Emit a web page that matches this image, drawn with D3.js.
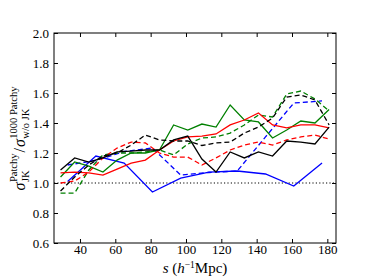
<!DOCTYPE html>
<html><head><meta charset="utf-8">
<script src="https://cdn.jsdelivr.net/npm/d3@7"></script>
<style>body{margin:0;background:#fff}svg{display:block}</style>
</head><body>
<script>
// bins of width 8 (centers) and width 16 (centers)
const s8 = [29,37,45,53,61,69,77,85,93,101,109,117,125,133,141,149,157,165,173,181];
const s16 = [33,49,65,81,97,113,129,145,161,177];

const blackSolid = [1.087,1.167,1.14,1.167,1.207,1.213,1.22,1.22,1.287,1.313,1.16,1.073,1.207,1.167,1.207,1.18,1.28,1.273,1.26,1.373];
const blackDashed = [0.947,1.04,1.12,1.18,1.2,1.253,1.32,1.287,1.28,1.28,1.25,1.267,1.273,1.333,1.373,1.433,1.573,1.587,1.553,1.387];
const redSolid = [1.067,1.073,1.067,1.053,1.093,1.133,1.153,1.22,1.28,1.307,1.313,1.327,1.387,1.42,1.467,1.387,1.367,1.387,1.387,1.367];
const redDashed = [1.0,1.013,1.073,1.167,1.233,1.273,1.267,1.2,1.173,1.173,1.12,1.167,1.22,1.253,1.273,1.253,1.287,1.307,1.32,1.293];
const greenSolid = [1.04,1.14,1.113,1.073,1.153,1.2,1.2,1.22,1.387,1.353,1.393,1.373,1.52,1.42,1.407,1.3,1.353,1.413,1.4,1.49];
const greenDashed = [0.933,0.933,1.087,1.187,1.2,1.2,1.207,1.22,1.187,1.26,1.3,1.307,1.333,1.387,1.453,1.44,1.593,1.613,1.56,1.48];
const blueSolid = [1.01,1.18,1.133,0.94,1.033,1.073,1.08,1.06,0.98,1.133];
const blueDashed = [1.12,1.15,1.21,1.233,1.053,1.07,1.08,1.307,1.533,1.547];

const xTicks = [40,60,80,100,120,140,160,180];
const yTicks = [0.6,0.8,1.0,1.2,1.4,1.6,1.8,2.0];

const W = 374, H = 280;
const m = {l:54, r:336, t:33, b:243};
const svg = d3.select("body").append("svg").attr("width", W).attr("height", H);
const x = d3.scaleLinear().domain([25.3,184.9]).range([m.l, m.r]);
const y = d3.scaleLinear().domain([0.6,2.0]).range([m.b, m.t]);
const font = "'Liberation Serif','DejaVu Serif',serif";

// reference line at 1.0
svg.append("line").attr("x1", m.l).attr("x2", m.r).attr("y1", y(1)).attr("y2", y(1))
  .attr("stroke", "#000").attr("stroke-width", 1.2).attr("stroke-dasharray", "1.2,2.2");

const series = [
  {xs: s16, v: blueSolid, c: "#0000ff", d: null},
  {xs: s16, v: blueDashed, c: "#0000ff", d: "5,3"},
  {xs: s8, v: greenSolid, c: "#008000", d: null},
  {xs: s8, v: greenDashed, c: "#008000", d: "5,3"},
  {xs: s8, v: redSolid, c: "#ff0000", d: null},
  {xs: s8, v: redDashed, c: "#ff0000", d: "5,3"},
  {xs: s8, v: blackSolid, c: "#000000", d: null},
  {xs: s8, v: blackDashed, c: "#000000", d: "5,3"},
];
const line = d3.line().x(d => x(d[0])).y(d => y(d[1]));
series.forEach(sr => {
  svg.append("path").datum(sr.xs.map((s,i) => [s, sr.v[i]]))
    .attr("d", line).attr("fill", "none").attr("stroke", sr.c)
    .attr("stroke-width", 1.3).attr("stroke-dasharray", sr.d);
});

// axes: ticks inward on all sides
const tl = 4;
const axB = d3.axisBottom(x).tickValues(xTicks).tickSizeInner(-tl).tickSizeOuter(0).tickPadding(2).tickFormat(d3.format("d"));
const axT = d3.axisTop(x).tickValues(xTicks).tickSizeInner(-tl).tickSizeOuter(0).tickFormat("");
const axL = d3.axisLeft(y).tickValues(yTicks).tickSizeInner(-tl).tickSizeOuter(0).tickPadding(5).tickFormat(d3.format(".1f"));
const axR = d3.axisRight(y).tickValues(yTicks).tickSizeInner(-tl).tickSizeOuter(0).tickFormat("");
[[axB, `translate(0,${m.b})`],[axT, `translate(0,${m.t})`],[axL, `translate(${m.l},0)`],[axR, `translate(${m.r},0)`]].forEach(([a,t]) => {
  const g = svg.append("g").attr("transform", t).call(a);
  g.select(".domain").remove();
  g.selectAll("line").attr("stroke", "#000").attr("stroke-width", 1);
  g.selectAll("text").attr("font-family", font).attr("font-size", 13).attr("fill", "#000");
});
svg.append("rect").attr("x", m.l).attr("y", m.t).attr("width", m.r - m.l).attr("height", m.b - m.t)
  .attr("fill", "none").attr("stroke", "#000").attr("stroke-width", 1);

// x label
const xl = svg.append("text").attr("x", (m.l + m.r)/2).attr("y", 273).attr("text-anchor", "middle")
  .attr("font-family", font).attr("font-size", 15);
xl.append("tspan").attr("font-style", "italic").text("s");
xl.append("tspan").text(" (");
xl.append("tspan").attr("font-style", "italic").text("h");
xl.append("tspan").attr("font-size", 9.5).attr("dy", -5.5).text("−1");
xl.append("tspan").attr("dy", 5.5).text("Mpc)");

// y label (rotated), built from pieces
const yl = svg.append("g").attr("transform", `translate(25,${(m.t + m.b)/2}) rotate(-90)`);
let cx = 0;
function piece(txt, size, dy, italic, xpos) {
  const t = yl.append("text").attr("x", xpos).attr("y", dy).attr("font-family", font)
    .attr("font-size", size).attr("font-style", italic ? "italic" : "normal").text(txt);
  return t;
}
const parts = [];
function addSigma() {
  const t = piece("σ", 16, 0, true, cx); cx += t.node().getComputedTextLength() + 0.5; parts.push(t);
}
function addStack(sub, sup) {
  const a = piece(sub, 10.5, 4, false, cx), b = piece(sup, 10.5, -8, false, cx);
  parts.push(a, b);
  cx += Math.max(a.node().getComputedTextLength(), b.node().getComputedTextLength()) + 1;
}
addSigma(); addStack("JK", "Patchy");
const sl = piece("/", 16, 0, false, cx); parts.push(sl); cx += sl.node().getComputedTextLength() + 1;
addSigma(); addStack("w/o JK", "1000 Patchy");
const total = cx;
parts.forEach(p => p.attr("x", +p.attr("x") - total/2));
</script>
</body></html>
